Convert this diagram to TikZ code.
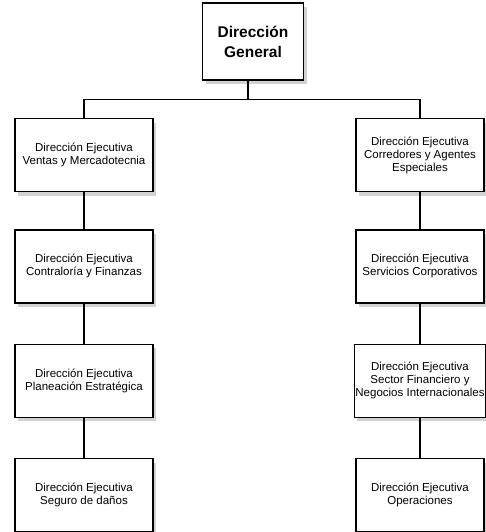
\documentclass[tikz,border=0pt]{standalone}
\usepackage{fontspec}
\setmainfont{Liberation Sans}
\usetikzlibrary{positioning,shadows}

\begin{document}
\begin{tikzpicture}[x=1pt,y=1pt,
    dirbox/.style={draw, line width=1.4pt, fill=white, align=center,
      minimum width=138pt, minimum height=73pt, inner sep=1pt,
      font=\fontsize{11.5}{13}\selectfont,
      drop shadow={shadow xshift=3pt, shadow yshift=-4pt, fill=gray!35, opacity=1}},
    dgbox/.style={dirbox, minimum width=101pt, minimum height=77pt,
      font=\fontsize{15.5}{20}\selectfont\bfseries},
    conn/.style={line width=1.1pt}]
  \useasboundingbox (0,0) rectangle (485,-532);
  % Nodes

  % Top
  \node[dgbox] at (253,-41.5) (dg) {Dirección\\General} ;

  % Left column
  \node[dirbox] at (84,-155) (l1) {Dirección Ejecutiva\\Ventas y Mercadotecnia} ;
  \node[dirbox, below=37pt of l1] (l2) {Dirección Ejecutiva\\Contraloría y Finanzas} ;
  \node[dirbox, below=40pt of l2] (l3) {Dirección Ejecutiva\\Planeación Estratégica} ;
  \node[dirbox, below=40pt of l3] (l4) {Dirección Ejecutiva\\Seguro de daños} ;

  % Right column
  \node[dirbox, minimum width=128pt] at (420,-155) (r1) {Dirección Ejecutiva\\Corredores y Agentes\\Especiales} ;
  \node[dirbox, minimum width=128pt, below=37pt of r1] (r2) {Dirección Ejecutiva\\Servicios Corporativos} ;
  \node[dirbox, minimum width=128pt, below=40pt of r2] (r3) {Dirección Ejecutiva\\Sector Financiero y\\Negocios Internacionales} ;
  \node[dirbox, minimum width=128pt, below=40pt of r3] (r4) {Dirección Ejecutiva\\Operaciones} ;

  % Connect the nodes
  \draw[conn] ([xshift=-5pt]dg.south) -- ++(0,-19) coordinate (jn) ; %
  \draw[conn] (jn) -| (l1.north) ; %
  \draw[conn] (jn) -| (r1.north) ; %

  \draw[conn] (l1) -- (l2) ; %
  \draw[conn] (l2) -- (l3) ; %
  \draw[conn] (l3) -- (l4) ; %

  \draw[conn] (r1) -- (r2) ; %
  \draw[conn] (r2) -- (r3) ; %
  \draw[conn] (r3) -- (r4) ; %
\end{tikzpicture}
\end{document}
